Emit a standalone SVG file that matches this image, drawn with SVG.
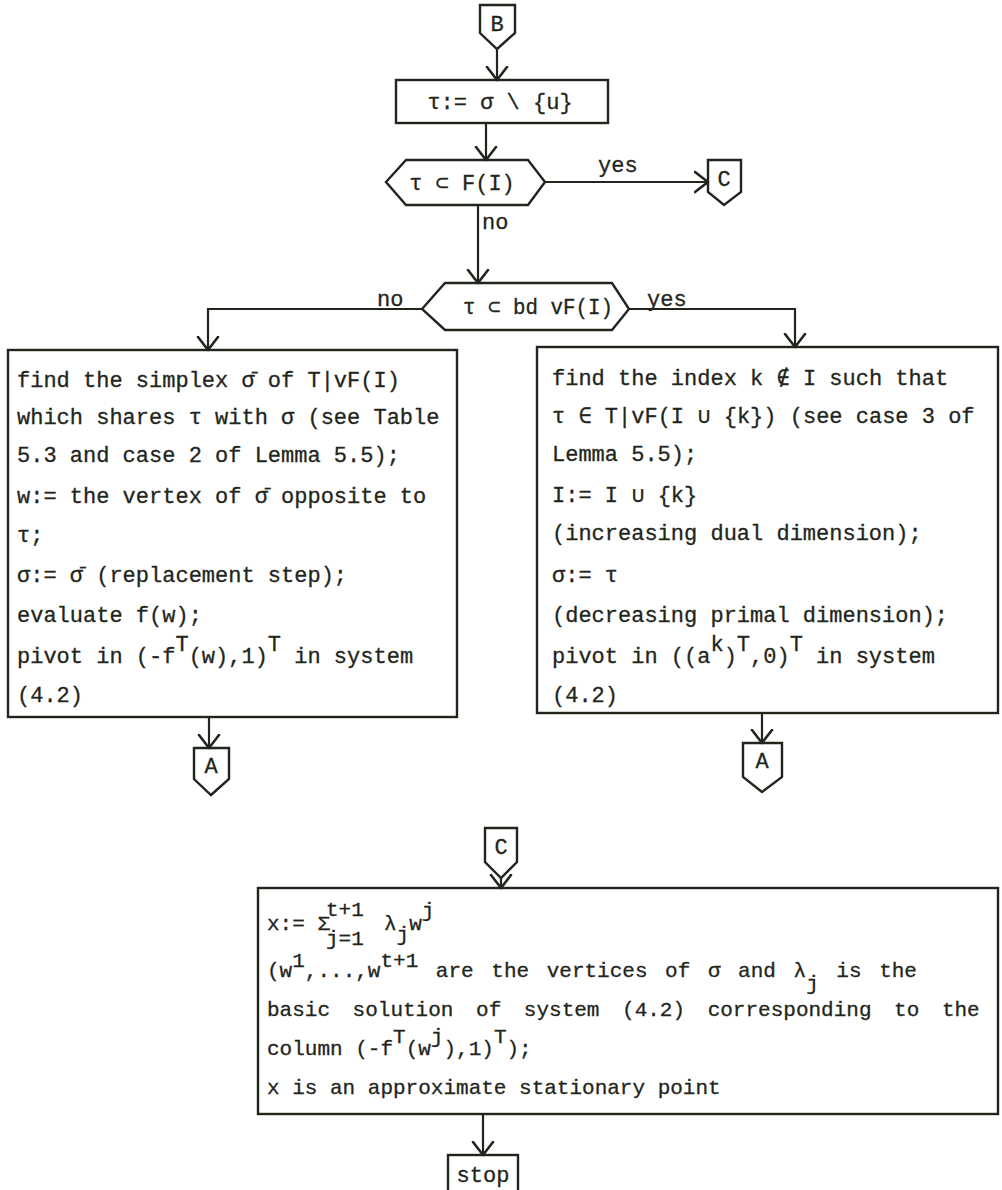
<svg xmlns="http://www.w3.org/2000/svg" width="1002" height="1190" viewBox="0 0 1002 1190">
<defs>
<style>
.ln{fill:none;stroke:#1f261c;stroke-width:2.2}
.nd{fill:none;stroke:#1f261c;stroke-width:2.4;stroke-linejoin:miter}
text{font-family:"Liberation Mono","DejaVu Sans Mono",monospace;font-size:22px;fill:#1f261c;stroke:#1f261c;stroke-width:0.3}
.c{text-anchor:middle}
.sm{font-size:21px}
</style>
<marker id="v" viewBox="-14 -12 16 24" refX="0" refY="0" markerWidth="16" markerHeight="24" markerUnits="userSpaceOnUse" orient="auto">
<path d="M-13,-10 L0,0 L-13,10" fill="none" stroke="#1f261c" stroke-width="2.6" stroke-linecap="round" stroke-linejoin="round"/>
</marker>
</defs>
<rect width="1002" height="1190" fill="#ffffff"/>

<g id="connectors">
<path class="ln" d="M497,49 V80" marker-end="url(#v)"/>
<path class="ln" d="M486,123 V160" marker-end="url(#v)"/>
<path class="ln" d="M545,182 H708" marker-end="url(#v)"/>
<path class="ln" d="M478,205 V283" marker-end="url(#v)"/>
<path class="ln" d="M422,309 H208 V350" marker-end="url(#v)"/>
<path class="ln" d="M629,309 H795 V347" marker-end="url(#v)"/>
<path class="ln" d="M209,717 V748" marker-end="url(#v)"/>
<path class="ln" d="M762,713 V743" marker-end="url(#v)"/>
<path class="ln" d="M501,878 V888" marker-end="url(#v)"/>
<path class="ln" d="M483,1114 V1155" marker-end="url(#v)"/>
<text x="598" y="172">yes</text>
<text x="482" y="229">no</text>
<text x="377" y="306">no</text>
<text x="647" y="306">yes</text>
</g>

<g id="B">
<path class="nd" d="M480,5 H515 V33 L497,49 L480,33 Z"/>
<text class="c" x="497" y="31">B</text>
</g>

<g id="assign-tau">
<rect class="nd" x="396" y="80" width="212" height="43"/>
<text class="c" x="500" y="109">τ:= σ \ {u}</text>
</g>

<g id="test-face">
<polygon class="nd" points="386,182 406,160 528,160 545,182 528,205 406,205"/>
<text class="c" x="462" y="190">τ ⊂ F(I)</text>
</g>

<g id="C-out">
<path class="nd" d="M708,160 H741 V192 L724,205 L708,192 Z"/>
<text class="c" x="724" y="186">C</text>
</g>

<g id="test-boundary">
<polygon class="nd" points="422,309 445,283 612,283 629,309 612,330 445,330"/>
<text x="463" y="314" textLength="150" lengthAdjust="spacingAndGlyphs">τ ⊂ bd vF(I)</text>
</g>

<g id="replacement">
<rect class="nd" x="8" y="350" width="449" height="367"/>
<text x="17" y="387">find the simplex σ̄ of T|vF(I)</text>
<text x="17" y="424">which shares τ with σ (see Table</text>
<text x="17" y="462">5.3 and case 2 of Lemma 5.5);</text>
<text x="17" y="503">w:= the vertex of σ̄ opposite to</text>
<text x="17" y="542">τ;</text>
<text x="17" y="582">σ:= σ̄ (replacement step);</text>
<text x="17" y="622">evaluate f(w);</text>
<text x="17" y="663">pivot in (-f<tspan dy="-12">T</tspan><tspan dy="12">(w),1)</tspan><tspan dy="-12">T</tspan><tspan dy="12"> in system</tspan></text>
<text x="17" y="702">(4.2)</text>
</g>

<g id="increase-dual">
<rect class="nd" x="537" y="347" width="461" height="366"/>
<text x="552" y="385">find the index k ∉ I such that</text>
<text x="552" y="423">τ ∈ T|vF(I ∪ {k}) (see case 3 of</text>
<text x="552" y="461">Lemma 5.5);</text>
<text x="552" y="502">I:= I ∪ {k}</text>
<text x="552" y="540">(increasing dual dimension);</text>
<text x="552" y="582">σ:= τ</text>
<text x="552" y="622">(decreasing primal dimension);</text>
<text x="552" y="663">pivot in ((a<tspan dy="-12">k</tspan><tspan dy="12">)</tspan><tspan dy="-12">T</tspan><tspan dy="12">,0)</tspan><tspan dy="-12">T</tspan><tspan dy="12"> in system</tspan></text>
<text x="552" y="702">(4.2)</text>
</g>

<g id="A-left">
<path class="nd" d="M194,748 H229 V779 L211,795 L194,779 Z"/>
<text class="c" x="211" y="773">A</text>
</g>

<g id="A-right">
<path class="nd" d="M743,743 H782 V777 L762,792 L743,777 Z"/>
<text class="c" x="762" y="768">A</text>
</g>

<g id="C-in">
<path class="nd" d="M485,828 H517 V862 L501,878 L485,862 Z"/>
<text class="c" x="501" y="854">C</text>
</g>

<g id="result">
<rect class="nd" x="258" y="888" width="740" height="226"/>
<text class="sm" x="267" y="930">x:= Σ<tspan x="326" y="916">t+1</tspan><tspan x="326" y="945">j=1</tspan><tspan x="384" y="930">λ</tspan><tspan y="941">j</tspan><tspan y="930">w</tspan><tspan y="917">j</tspan></text>
<text class="sm" x="267" y="977" word-spacing="5">(w<tspan dy="-10">1</tspan><tspan dy="10">,...,w</tspan><tspan dy="-10">t+1</tspan><tspan dy="10"> are the vertices of σ and λ</tspan><tspan dy="13">j</tspan><tspan dy="-13"> is the</tspan></text>
<text class="sm" x="267" y="1016" word-spacing="10">basic solution of system (4.2) corresponding to the</text>
<text class="sm" x="267" y="1055">column (-f<tspan dy="-12">T</tspan><tspan dy="12">(w</tspan><tspan dy="-12">j</tspan><tspan dy="12">),1)</tspan><tspan dy="-12">T</tspan><tspan dy="12">);</tspan></text>
<text class="sm" x="267" y="1094">x is an approximate stationary point</text>
</g>

<g id="stop">
<rect class="nd" x="448" y="1155" width="70" height="45"/>
<text class="c" x="483" y="1182">stop</text>
</g>
</svg>
